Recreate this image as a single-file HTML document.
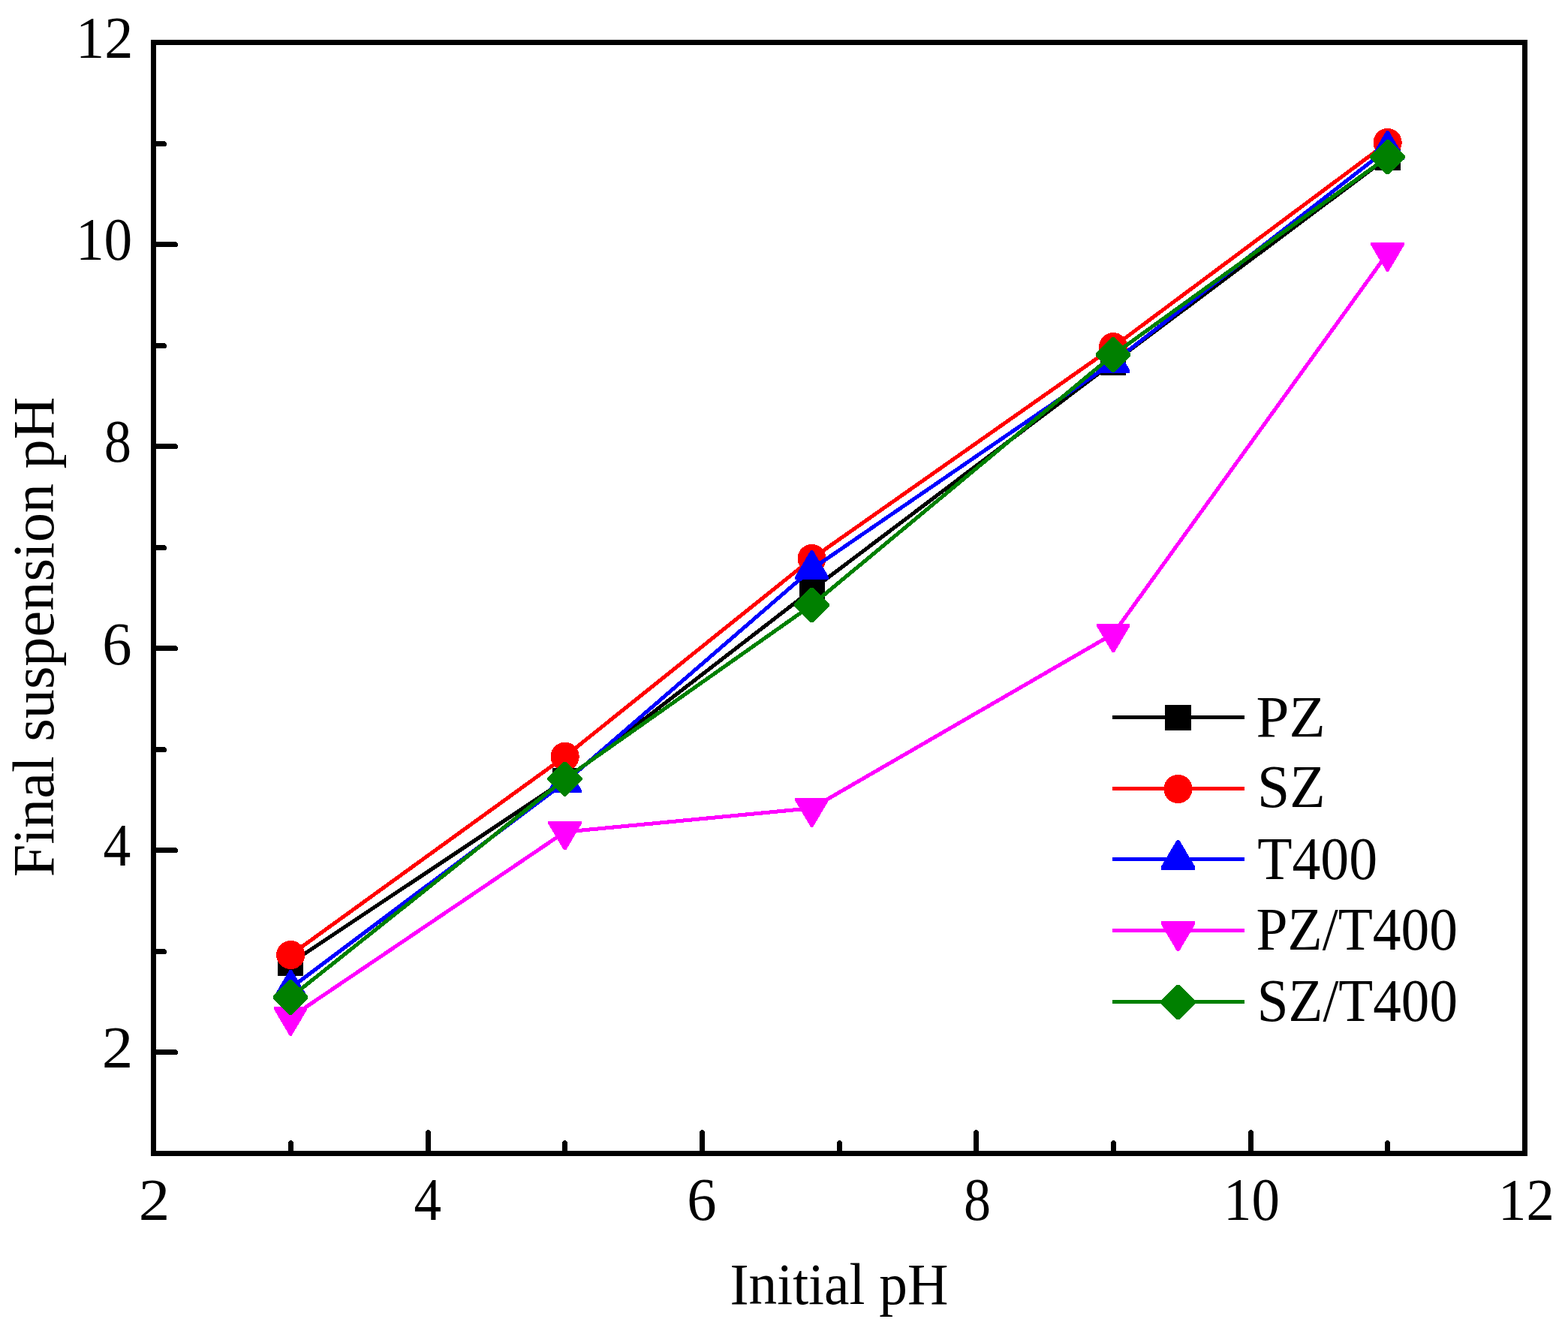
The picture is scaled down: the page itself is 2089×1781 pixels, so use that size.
<!DOCTYPE html>
<html lang="en"><head><meta charset="utf-8">
<title>Final suspension pH vs Initial pH</title>
<style>
html,body{margin:0;padding:0;background:#fff;}
body{width:2089px;height:1781px;overflow:hidden;}
svg{display:block;}
text{font-family:"Liberation Serif","Times New Roman",Times,serif;font-size:77px;fill:#000;}
</style></head><body>
<svg width="2089" height="1781" viewBox="0 0 2089 1781">
<rect x="0" y="0" width="2089" height="1781" fill="#ffffff"/>
<g id="series" shape-rendering="crispEdges">
<g><polyline points="387.2,1282.9 752.6,1039.5 1081.6,785.7 1483.2,482.8 1848.6,209.7" fill="none" stroke="#000000" stroke-width="5.1" stroke-linejoin="round"/>
<rect x="370.30" y="1265.95" width="33.8" height="33.9" fill="#000000"/>
<rect x="735.70" y="1022.55" width="33.8" height="33.9" fill="#000000"/>
<rect x="1064.70" y="768.75" width="33.8" height="33.9" fill="#000000"/>
<rect x="1466.30" y="465.85" width="33.8" height="33.9" fill="#000000"/>
<rect x="1831.70" y="192.75" width="33.8" height="33.9" fill="#000000"/>
</g>
<g><polyline points="387.2,1272.0 752.6,1007.8 1081.6,744.1 1483.2,462.1 1848.6,190.0" fill="none" stroke="#ff0000" stroke-width="5.1" stroke-linejoin="round"/>
<circle cx="387.20" cy="1272.00" r="19.1" fill="#ff0000"/>
<circle cx="752.60" cy="1007.80" r="19.1" fill="#ff0000"/>
<circle cx="1081.60" cy="744.10" r="19.1" fill="#ff0000"/>
<circle cx="1483.20" cy="462.10" r="19.1" fill="#ff0000"/>
<circle cx="1848.60" cy="190.00" r="19.1" fill="#ff0000"/>
</g>
<g><polyline points="387.2,1316.1 752.6,1042.2 1081.6,758.0 1483.2,482.5 1848.6,198.3" fill="none" stroke="#0000ff" stroke-width="5.1" stroke-linejoin="round"/>
<polygon points="385.70,1291.85 388.70,1291.85 409.40,1326.85 409.40,1330.35 365.00,1330.35 365.00,1326.85" fill="#0000ff"/>
<polygon points="751.10,1017.20 754.10,1017.20 774.80,1052.20 774.80,1055.70 730.40,1055.70 730.40,1052.20" fill="#0000ff"/>
<polygon points="1080.10,733.05 1083.10,733.05 1103.80,768.05 1103.80,771.55 1059.40,771.55 1059.40,768.05" fill="#0000ff"/>
<polygon points="1481.70,458.25 1484.70,458.25 1505.40,493.25 1505.40,496.75 1461.00,496.75 1461.00,493.25" fill="#0000ff"/>
<polygon points="1847.10,174.05 1850.10,174.05 1870.80,209.05 1870.80,212.55 1826.40,212.55 1826.40,209.05" fill="#0000ff"/>
</g>
<g><polyline points="387.2,1355.3 752.6,1108.2 1081.6,1076.6 1483.2,844.3 1848.6,337.3" fill="none" stroke="#ff00ff" stroke-width="5.1" stroke-linejoin="round"/>
<polygon points="385.70,1379.55 388.70,1379.55 409.40,1344.55 409.40,1341.05 365.00,1341.05 365.00,1344.55" fill="#ff00ff"/>
<polygon points="751.10,1132.40 754.10,1132.40 774.80,1097.40 774.80,1093.90 730.40,1093.90 730.40,1097.40" fill="#ff00ff"/>
<polygon points="1080.10,1101.75 1083.10,1101.75 1103.80,1066.75 1103.80,1063.25 1059.40,1063.25 1059.40,1066.75" fill="#ff00ff"/>
<polygon points="1481.70,869.05 1484.70,869.05 1505.40,834.05 1505.40,830.55 1461.00,830.55 1461.00,834.05" fill="#ff00ff"/>
<polygon points="1847.10,361.55 1850.10,361.55 1870.80,326.55 1870.80,323.05 1826.40,323.05 1826.40,326.55" fill="#ff00ff"/>
</g>
<g><polyline points="387.2,1328.5 752.6,1037.6 1081.6,805.9 1483.2,472.5 1848.6,209.2" fill="none" stroke="#008000" stroke-width="5.1" stroke-linejoin="round"/>
<polygon points="385.60,1305.40 388.80,1305.40 410.40,1326.90 410.40,1330.10 388.80,1351.60 385.60,1351.60 364.00,1330.10 364.00,1326.90" fill="#008000"/>
<polygon points="751.00,1014.50 754.20,1014.50 775.80,1036.00 775.80,1039.20 754.20,1060.70 751.00,1060.70 729.40,1039.20 729.40,1036.00" fill="#008000"/>
<polygon points="1080.00,782.80 1083.20,782.80 1104.80,804.30 1104.80,807.50 1083.20,829.00 1080.00,829.00 1058.40,807.50 1058.40,804.30" fill="#008000"/>
<polygon points="1481.60,449.40 1484.80,449.40 1506.40,470.90 1506.40,474.10 1484.80,495.60 1481.60,495.60 1460.00,474.10 1460.00,470.90" fill="#008000"/>
<polygon points="1847.00,186.10 1850.20,186.10 1871.80,207.60 1871.80,210.80 1850.20,232.30 1847.00,232.30 1825.40,210.80 1825.40,207.60" fill="#008000"/>
</g>
</g>
<g id="axes" shape-rendering="crispEdges" stroke="#000" stroke-width="7.0" fill="none" stroke-linecap="round">
<rect x="204.5" y="56.5" width="1827.0" height="1480.0" stroke-linejoin="miter"/>
<line x1="387.5" y1="1536.5" x2="387.5" y2="1522.5"/>
<line x1="570.5" y1="1536.5" x2="570.5" y2="1508.5"/>
<line x1="752.5" y1="1536.5" x2="752.5" y2="1522.5"/>
<line x1="935.5" y1="1536.5" x2="935.5" y2="1508.5"/>
<line x1="1118.5" y1="1536.5" x2="1118.5" y2="1522.5"/>
<line x1="1300.5" y1="1536.5" x2="1300.5" y2="1508.5"/>
<line x1="1483.5" y1="1536.5" x2="1483.5" y2="1522.5"/>
<line x1="1666.5" y1="1536.5" x2="1666.5" y2="1508.5"/>
<line x1="1848.5" y1="1536.5" x2="1848.5" y2="1522.5"/>
<line x1="204.5" y1="1401.5" x2="233.5" y2="1401.5"/>
<line x1="204.5" y1="1267.5" x2="218.5" y2="1267.5"/>
<line x1="204.5" y1="1132.5" x2="233.5" y2="1132.5"/>
<line x1="204.5" y1="998.5" x2="218.5" y2="998.5"/>
<line x1="204.5" y1="863.5" x2="233.5" y2="863.5"/>
<line x1="204.5" y1="729.5" x2="218.5" y2="729.5"/>
<line x1="204.5" y1="594.5" x2="233.5" y2="594.5"/>
<line x1="204.5" y1="460.5" x2="218.5" y2="460.5"/>
<line x1="204.5" y1="325.5" x2="233.5" y2="325.5"/>
<line x1="204.5" y1="191.5" x2="218.5" y2="191.5"/>
</g>
<g id="xticklabels">
<text transform="matrix(1.0800 0 0 1.0272 184.63 1624.00)">2</text>
<text transform="matrix(0.9496 0 0 1.0410 551.54 1625.40)">4</text>
<text transform="matrix(1.0206 0 0 1.0312 915.16 1625.21)">6</text>
<text transform="matrix(0.9369 0 0 1.0322 1283.96 1625.21)">8</text>
<text transform="matrix(0.9733 0 0 1.0390 1630.06 1625.00)">10</text>
<text transform="matrix(0.9721 0 0 1.0272 1996.06 1624.00)">12</text>
</g>
<g id="yticklabels">
<text transform="matrix(0.9904 0 0 1.0277 101.04 76.00)">12</text>
<text transform="matrix(0.9793 0 0 1.0390 100.91 345.80)">10</text>
<text transform="matrix(0.9416 0 0 1.0322 138.80 615.21)">8</text>
<text transform="matrix(1.0206 0 0 1.0312 136.26 885.21)">6</text>
<text transform="matrix(0.9552 0 0 1.0420 137.43 1153.40)">4</text>
<text transform="matrix(1.0800 0 0 1.0232 135.73 1421.20)">2</text>
</g>
<text id="xlabel" transform="matrix(0.9787 0 0 1.0274 972.46 1737.19)">Initial pH</text>
<text id="ylabel" transform="matrix(0 -1.0173 1.0267 0 71.05 1168.35)">Final suspension pH</text>
<g id="legend" shape-rendering="crispEdges">
<line x1="1482" y1="955.5" x2="1658" y2="955.5" stroke="#000000" stroke-width="5.1"/>
<rect x="1552.05" y="938.95" width="34.9" height="33.9" fill="#000000"/>
<text transform="matrix(1.0257 0 0 1.0053 1673.53 980.80)">PZ</text>
<line x1="1482" y1="1050.5" x2="1658" y2="1050.5" stroke="#ff0000" stroke-width="5.1"/>
<circle cx="1569.50" cy="1050.95" r="19.1" fill="#ff0000"/>
<text transform="matrix(1.0079 0 0 1.0312 1675.06 1075.21)">SZ</text>
<line x1="1482" y1="1144.6" x2="1658" y2="1144.6" stroke="#0000ff" stroke-width="5.1"/>
<polygon points="1568.00,1118.75 1571.00,1118.75 1592.00,1154.25 1592.00,1158.85 1547.00,1158.85 1547.00,1154.25" fill="#0000ff"/>
<text transform="matrix(0.9843 0 0 1.0342 1675.13 1170.55)">T400</text>
<line x1="1482" y1="1239.5" x2="1658" y2="1239.5" stroke="#ff00ff" stroke-width="5.1"/>
<polygon points="1568.00,1267.10 1571.00,1267.10 1592.00,1231.60 1592.00,1227.00 1547.00,1227.00 1547.00,1231.60" fill="#ff00ff"/>
<text transform="matrix(0.9804 0 0 1.0409 1673.59 1265.20)">PZ/T400</text>
<line x1="1482" y1="1334.5" x2="1658" y2="1334.5" stroke="#008000" stroke-width="5.1"/>
<polygon points="1567.70,1311.90 1571.30,1311.90 1592.50,1333.10 1592.50,1336.70 1571.30,1357.90 1567.70,1357.90 1546.50,1336.70 1546.50,1333.10" fill="#008000"/>
<text transform="matrix(0.9758 0 0 1.0409 1674.82 1359.50)">SZ/T400</text>
</g>
</svg></body></html>
